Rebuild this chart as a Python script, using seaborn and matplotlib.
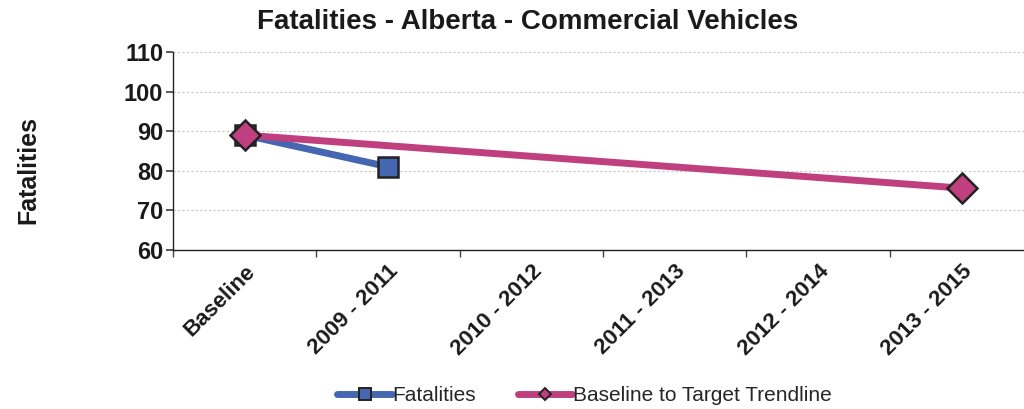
import numpy as np
import pandas as pd
import seaborn as sns
import matplotlib.pyplot as plt
from matplotlib.lines import Line2D

# --- data ---
categories = ["Baseline", "2009 - 2011", "2010 - 2012", "2011 - 2013", "2012 - 2014", "2013 - 2015"]
fatalities = [89, 81, np.nan, np.nan, np.nan, np.nan]
trendline = [89, np.nan, np.nan, np.nan, np.nan, 75.6]

BLUE = "#4566B0"
PINK = "#C0407F"
INK = "#1a1a1a"

sns.set_theme(style="white")
plt.rcParams["font.family"] = ["Liberation Sans", "DejaVu Sans"]

df = pd.DataFrame({"pos": range(len(categories)), "Fatalities": fatalities,
                   "Trend": trendline})
df_fat = df[["pos", "Fatalities"]].dropna()
df_tr = df[["pos", "Trend"]].dropna()

fig = plt.figure(figsize=(10.24, 4.09), dpi=100)
ax = fig.add_axes([0.169, 0.389, 0.84, 0.484])

ax.yaxis.grid(True, color="#c8c8c8", linestyle=(0, (2, 2)), linewidth=0.8)
ax.set_axisbelow(True)

sns.lineplot(data=df_fat, x="pos", y="Fatalities", ax=ax, color=BLUE, linewidth=5,
             marker="s", markersize=14, markerfacecolor=BLUE, markeredgecolor="#222222",
             markeredgewidth=1.8, zorder=3)
sns.lineplot(data=df_tr, x="pos", y="Trend", ax=ax, color=PINK, linewidth=5,
             marker="D", markersize=15, markerfacecolor=PINK, markeredgecolor="#222222",
             markeredgewidth=1.8, zorder=4)

ax.set_xlim(-0.5, 5.5)
ax.set_ylim(60, 110)
ax.set_yticks(range(60, 111, 10))
ax.set_yticklabels([str(v) for v in range(60, 111, 10)], fontsize=17, fontweight="bold",
                   color=INK)
ax.set_xticks(range(len(categories)))
ax.set_xticklabels(categories, rotation=45, ha="right", rotation_mode="anchor",
                   fontsize=16, fontweight="bold", color=INK)
ax.set_xticks(np.arange(-0.5, 5.6, 1), minor=True)
ax.tick_params(axis="x", which="major", length=0, pad=8)
ax.tick_params(axis="x", which="minor", length=5, color="#444444", direction="out", bottom=True)
ax.tick_params(axis="y", length=5, color="#444444", direction="out", left=True, pad=2)

for s in ["top", "right"]:
    ax.spines[s].set_visible(False)
for s in ["left", "bottom"]:
    ax.spines[s].set_color("#222222")
    ax.spines[s].set_linewidth(1.0)

ax.set_xlabel("")
ax.set_ylabel("")
fig.text(0.028, 0.585, "Fatalities", rotation=90, ha="center", va="center",
         fontsize=18, fontweight="bold", color=INK)
fig.text(0.515, 0.945, "Fatalities - Alberta - Commercial Vehicles", ha="center", va="center",
         fontsize=20, fontweight="bold", color=INK)

handles = [
    Line2D([], [], color=BLUE, linewidth=5, marker="s", markersize=8,
           markerfacecolor=BLUE, markeredgecolor="#222222", markeredgewidth=1.4),
    Line2D([], [], color=PINK, linewidth=5, marker="D", markersize=6,
           markerfacecolor=PINK, markeredgecolor="#222222", markeredgewidth=1.4),
]
fig.legend(handles, ["Fatalities", "Baseline to Target Trendline"], loc="center",
           bbox_to_anchor=(0.571, 0.033), ncol=2, frameon=False, fontsize=15,
           handlelength=2.6, handletextpad=0.05, columnspacing=2.0)

fig.savefig("out.png", dpi=100)
